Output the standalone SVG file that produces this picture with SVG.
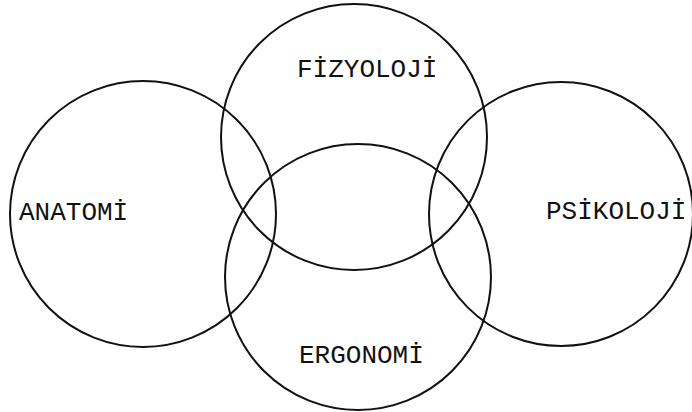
<svg xmlns="http://www.w3.org/2000/svg" width="692" height="412" viewBox="0 0 692 412">
  <style>
    .ring { fill: none; stroke: #111; stroke-width: 2; }
    .lbl { font-family: "Liberation Mono", "DejaVu Sans Mono", monospace; font-size: 26px; fill: #111; }
  </style>
  <rect width="692" height="412" fill="#fff"/>
  <g id="connectors"></g>
  <g id="anatomi">
    <circle class="ring" cx="143" cy="214" r="133"/>
    <text class="lbl" x="19" y="220">ANATOMİ</text>
  </g>
  <g id="fizyoloji">
    <circle class="ring" cx="354" cy="137" r="133"/>
    <text class="lbl" x="297" y="77">FİZYOLOJİ</text>
  </g>
  <g id="psikoloji">
    <circle class="ring" cx="561" cy="214" r="132"/>
    <text class="lbl" x="546" y="219">PSİKOLOJİ</text>
  </g>
  <g id="ergonomi">
    <circle class="ring" cx="358" cy="277" r="133"/>
    <text class="lbl" x="299" y="363">ERGONOMİ</text>
  </g>
</svg>
